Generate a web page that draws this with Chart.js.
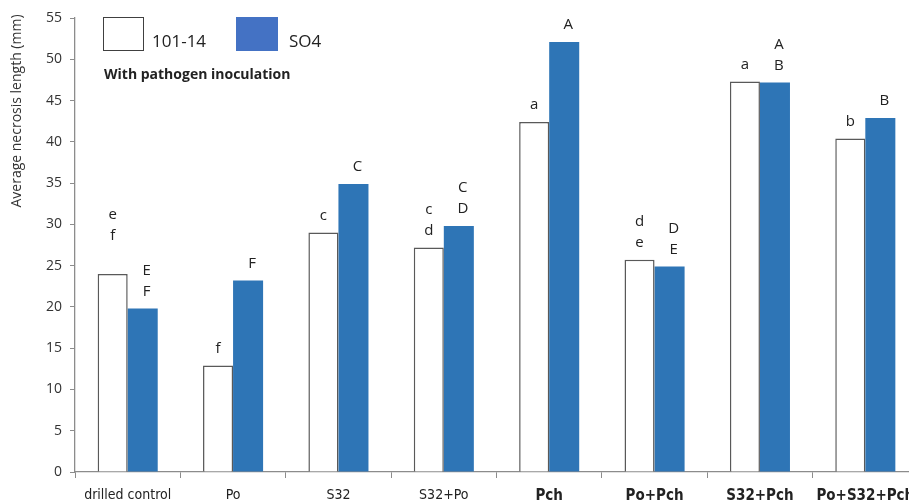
<!DOCTYPE html>
<html>
<head>
<meta charset="utf-8">
<script src="https://cdn.jsdelivr.net/npm/chart.js@4/dist/chart.umd.min.js"></script>
<style>
  html, body { margin: 0; padding: 0; background: #ffffff; overflow: hidden; }
  #wrap { width: 925px; height: 501px; }
</style>
</head>
<body>
<div id="wrap"><canvas id="c" width="925" height="501"></canvas></div>
<script>
// Treatments along the x axis
const categories = ['drilled control', 'Po', 'S32', 'S32+Po', 'Pch', 'Po+Pch', 'S32+Pch', 'Po+S32+Pch'];

// Average necrosis length (mm) per rootstock
const series101_14 = [24.0, 12.9, 29.0, 27.2, 42.4, 25.7, 47.3, 40.4];
const seriesSO4 = [19.8, 23.2, 34.9, 29.8, 52.1, 24.9, 47.2, 42.9];

// Significance letters written above each bar (top line first)
const letters101_14 = [['e', 'f', ''], ['f'], ['c'], ['c', 'd'], ['a'], ['d', 'e'], ['a'], ['b']];
const lettersSO4 = [['E', 'F'], ['F'], ['C'], ['C', 'D'], ['A'], ['D', 'E'], ['A', 'B'], ['B']];

const seriesNames = ['101-14', 'SO4'];
const panelNote = 'With pathogen inoculation';
const yAxisTitle = 'Average necrosis length (mm)';
const yMax = 55;
const yStep = 5;

const BLUE_BAR = '#2E75B6';
const BLUE_KEY = '#4472C4';
const OUTLINE = '#595959';
const AXIS = '#8c8c8c';
const TEXT = '#222222';
const FONT = "'Open Sans', 'Noto Sans', sans-serif";
const NARROW = "'Liberation Sans Narrow', 'DejaVu Sans Condensed', 'Open Sans', sans-serif";

// Letters above bars, legend keys, panel note and rotated axis title
const annotations = {
  id: 'annotations',
  afterDatasetsDraw(chart) {
    const ctx = chart.ctx;
    ctx.save();
    ctx.fillStyle = TEXT;
    ctx.font = '15px ' + FONT;
    ctx.textAlign = 'center';
    ctx.textBaseline = 'middle';
    [letters101_14, lettersSO4].forEach((sets, di) => {
      const meta = chart.getDatasetMeta(di);
      meta.data.forEach((bar, i) => {
        const lines = sets[i] || [];
        const dx = di === 1 ? 4 : 0;
        for (let k = lines.length - 1, n = 0; k >= 0; k--, n++) {
          ctx.fillText(lines[k], bar.x + dx, bar.y - 17 - n * 21);
        }
      });
    });

    // legend keys
    ctx.lineWidth = 1;
    ctx.fillStyle = '#ffffff';
    ctx.fillRect(103.5, 17.5, 40, 33);
    ctx.strokeStyle = '#404040';
    ctx.strokeRect(103.5, 17.5, 40, 33);
    ctx.fillStyle = BLUE_KEY;
    ctx.fillRect(236, 17, 42, 34);
    ctx.fillStyle = TEXT;
    ctx.textAlign = 'left';
    ctx.textBaseline = 'alphabetic';
    ctx.font = '17px ' + FONT;
    ctx.fillText(seriesNames[0], 152, 47);
    ctx.fillText(seriesNames[1], 289, 47);
    ctx.font = 'bold 14px ' + FONT;
    ctx.fillText(panelNote, 104, 79);

    // y axis title
    ctx.translate(17, 111);
    ctx.rotate(-Math.PI / 2);
    ctx.textAlign = 'center';
    ctx.textBaseline = 'middle';
    ctx.font = '14px ' + FONT;
    ctx.fillStyle = '#333333';
    ctx.fillText(yAxisTitle, 0, 0);
    ctx.restore();
  }
};

new Chart(document.getElementById('c'), {
  type: 'bar',
  data: {
    labels: categories,
    datasets: [
      {
        label: seriesNames[0],
        data: series101_14,
        backgroundColor: '#ffffff',
        borderColor: OUTLINE,
        borderWidth: 1.5,
        borderSkipped: 'bottom',
        categoryPercentage: 0.57,
        barPercentage: 1.0
      },
      {
        label: seriesNames[1],
        data: seriesSO4,
        backgroundColor: BLUE_BAR,
        borderWidth: 0,
        categoryPercentage: 0.57,
        barPercentage: 1.0
      }
    ]
  },
  options: {
    responsive: false,
    animation: false,
    layout: { padding: { left: 0, top: 18, right: 7, bottom: 0 } },
    plugins: {
      legend: { display: false },
      tooltip: { enabled: false }
    },
    scales: {
      x: {
        offset: true,
        grid: {
          offset: true,
          drawOnChartArea: false,
          drawTicks: true,
          tickLength: 6,
          color: AXIS
        },
        border: { color: AXIS, width: 1.3 },
        ticks: {
          padding: 9,
          color: TEXT,
          maxRotation: 0,
          autoSkip: false,
          font: (c) => c.index >= 4
            ? { family: NARROW, size: 15, weight: 'bold' }
            : { family: NARROW, size: 14, weight: 'normal' }
        },
        afterFit: (s) => { s.height = 29; }
      },
      y: {
        min: 0,
        max: yMax,
        grid: {
          drawOnChartArea: false,
          drawTicks: true,
          tickLength: 5,
          color: AXIS
        },
        border: { color: AXIS, width: 1.3 },
        ticks: {
          stepSize: yStep,
          padding: 8,
          color: '#333333',
          font: { family: FONT, size: 14 }
        },
        afterFit: (s) => { s.width = 75; }
      }
    }
  },
  plugins: [annotations]
});
</script>
</body>
</html>
